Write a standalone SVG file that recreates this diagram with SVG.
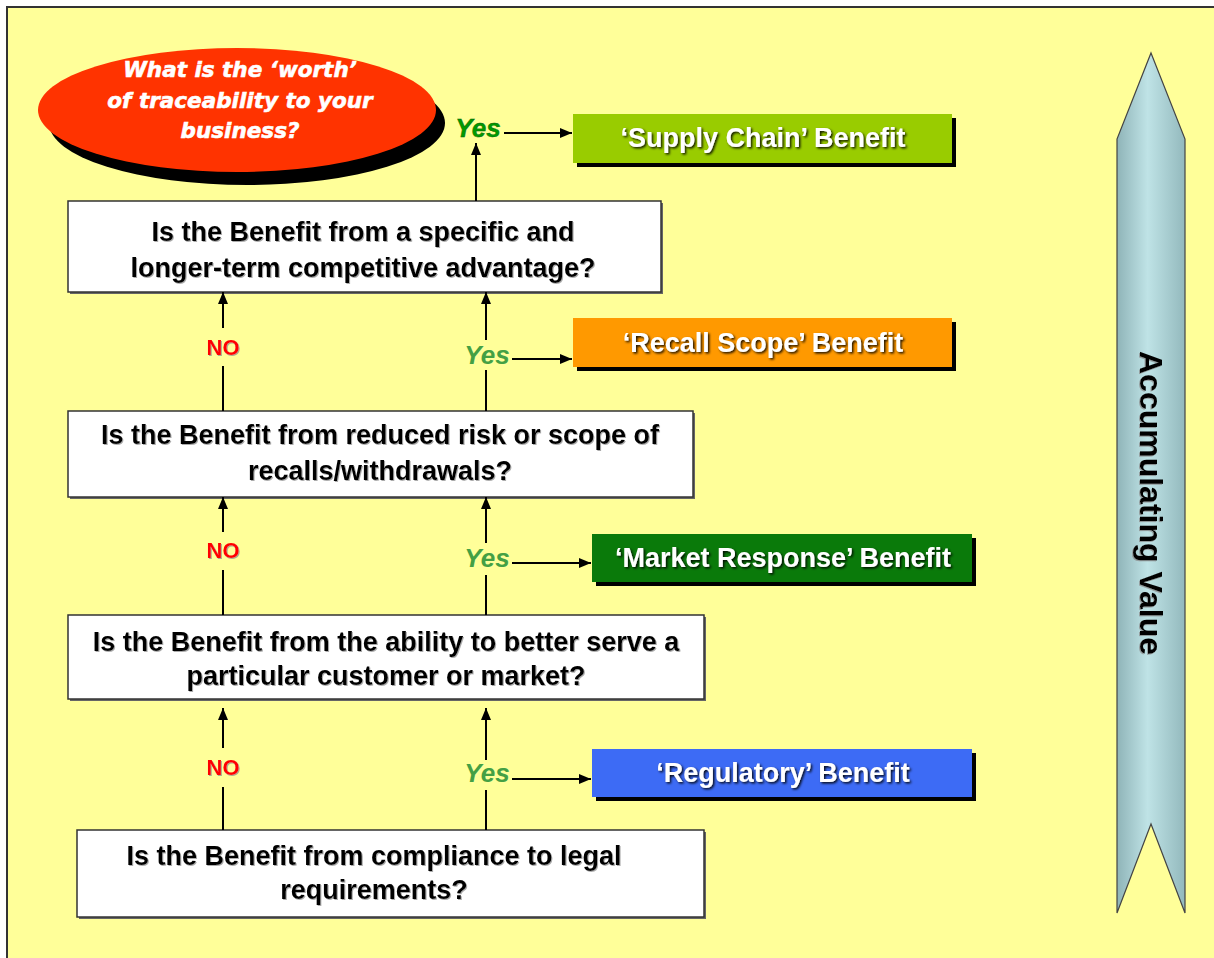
<svg xmlns="http://www.w3.org/2000/svg" width="1214" height="958" viewBox="0 0 1214 958">
<style>
.q{font-family:"Liberation Sans",Arial,sans-serif;font-weight:bold;font-size:27px;fill:#000;text-anchor:middle}
.qbox{fill:#fff;stroke:#333;stroke-width:1.5}
.qsh{fill:#666}
.ben{font-family:"Liberation Sans",Arial,sans-serif;font-weight:bold;font-size:27px;fill:#fff;text-anchor:middle}
.bsh{fill:#000}
.yes{font-family:"Liberation Sans",Arial,sans-serif;font-weight:bold;font-style:italic;font-size:26px;fill:#44a044;text-anchor:middle}
.no{font-family:"Liberation Sans",Arial,sans-serif;font-weight:bold;font-size:22px;fill:#ff0000;text-anchor:middle}
.ln{stroke:#000;stroke-width:2;fill:none}
.ell{font-family:"DejaVu Sans",Verdana,sans-serif;font-weight:bold;font-style:italic;font-size:21.5px;fill:#fff;stroke:#fff;stroke-width:0.6;text-anchor:middle}
</style>
<defs>
<marker id="ah" markerUnits="userSpaceOnUse" markerWidth="13" markerHeight="10" refX="12" refY="5" orient="auto">
<path d="M0,0 L12,5 L0,10 z" fill="#000"/>
</marker>
<filter id="tsh" x="-10%" y="-30%" width="120%" height="160%">
<feDropShadow dx="1.5" dy="1.5" stdDeviation="0.8" flood-color="#000" flood-opacity="0.9"/>
</filter>
<filter id="qsh" x="-10%" y="-30%" width="120%" height="160%">
<feDropShadow dx="1" dy="1" stdDeviation="0.6" flood-color="#888" flood-opacity="0.7"/>
</filter>
<linearGradient id="bar" x1="0" y1="0" x2="1" y2="0">
<stop offset="0" stop-color="#8fb4b8"/>
<stop offset="0.45" stop-color="#bfe3e6"/>
<stop offset="1" stop-color="#93b9bd"/>
</linearGradient>
</defs>

<rect x="0" y="0" width="1214" height="958" fill="#fff"/>
<rect x="7" y="7" width="1230" height="970" fill="#ffff99" stroke="#333" stroke-width="2"/>

<g id="question-ellipse">
<ellipse cx="247" cy="123" rx="198" ry="62" fill="#000"/>
<ellipse cx="237" cy="110" rx="199" ry="62" fill="#ff3300"/>
<text class="ell" x="240" y="77">What is the ‘worth’</text>
<text class="ell" x="240" y="108">of traceability to your</text>
<text class="ell" x="240" y="138">business?</text>
</g>

<g id="q-competitive">
<rect class="qsh" x="70" y="203" width="593" height="91"/>
<rect class="qbox" x="68" y="201" width="593" height="91"/>
<text class="q" filter="url(#qsh)" x="363" y="241">Is the Benefit from a specific and</text>
<text class="q" filter="url(#qsh)" x="363" y="277">longer-term competitive advantage?</text>
</g>

<g id="q-recall">
<rect class="qsh" x="70" y="413" width="625" height="86"/>
<rect class="qbox" x="68" y="411" width="625" height="86"/>
<text class="q" filter="url(#qsh)" x="380" y="444">Is the Benefit from reduced risk or scope of</text>
<text class="q" filter="url(#qsh)" x="380" y="480">recalls/withdrawals?</text>
</g>

<g id="q-market">
<rect class="qsh" x="70" y="617" width="636" height="84"/>
<rect class="qbox" x="68" y="615" width="636" height="84"/>
<text class="q" filter="url(#qsh)" x="386" y="651">Is the Benefit from the ability to better serve a</text>
<text class="q" filter="url(#qsh)" x="386" y="685">particular customer or market?</text>
</g>

<g id="q-legal">
<rect class="qsh" x="79" y="832" width="627" height="87"/>
<rect class="qbox" x="77" y="830" width="627" height="87"/>
<text class="q" filter="url(#qsh)" x="374" y="865">Is the Benefit from compliance to legal</text>
<text class="q" filter="url(#qsh)" x="374" y="899">requirements?</text>
</g>

<g id="b-supply">
<rect class="bsh" x="577" y="118" width="379" height="49"/>
<rect x="573" y="114" width="379" height="49" fill="#99cc00"/>
<text class="ben" filter="url(#tsh)" x="763" y="147">‘Supply Chain’ Benefit</text>
</g>

<g id="b-recall">
<rect class="bsh" x="577" y="322" width="379" height="49"/>
<rect x="573" y="318" width="379" height="49" fill="#ff9900"/>
<text class="ben" filter="url(#tsh)" x="763" y="352">‘Recall Scope’ Benefit</text>
</g>

<g id="b-market">
<rect class="bsh" x="596" y="538" width="380" height="48"/>
<rect x="592" y="534" width="380" height="48" fill="#0a7a0a"/>
<text class="ben" filter="url(#tsh)" x="783" y="567">‘Market Response’ Benefit</text>
</g>

<g id="b-regulatory">
<rect class="bsh" x="596" y="753" width="380" height="48"/>
<rect x="592" y="749" width="380" height="48" fill="#3d6bf5"/>
<text class="ben" filter="url(#tsh)" x="783" y="782">‘Regulatory’ Benefit</text>
</g>

<g id="value-arrow">
<path d="M1151,53 L1185,139 L1185,913 L1151,824 L1117,913 L1117,139 Z" fill="url(#bar)" stroke="#444" stroke-width="1.2"/>
<text transform="translate(1140,503) rotate(90)" x="0" y="0" font-family="Liberation Sans, Arial, sans-serif" font-weight="bold" font-size="32" text-anchor="middle" fill="#000" filter="url(#qsh)">Accumulating Value</text>
</g>

<g id="connectors">
<line class="ln" x1="223" y1="830" x2="223" y2="787"/>
<line class="ln" x1="223" y1="748" x2="223" y2="708" marker-end="url(#ah)"/>
<line class="ln" x1="223" y1="615" x2="223" y2="570"/>
<line class="ln" x1="223" y1="532" x2="223" y2="497" marker-end="url(#ah)"/>
<line class="ln" x1="223" y1="411" x2="223" y2="366"/>
<line class="ln" x1="223" y1="328" x2="223" y2="292" marker-end="url(#ah)"/>

<line class="ln" x1="486" y1="830" x2="486" y2="790"/>
<line class="ln" x1="486" y1="760" x2="486" y2="708" marker-end="url(#ah)"/>
<line class="ln" x1="512" y1="779" x2="591" y2="779" marker-end="url(#ah)"/>
<line class="ln" x1="486" y1="615" x2="486" y2="575"/>
<line class="ln" x1="486" y1="543" x2="486" y2="497" marker-end="url(#ah)"/>
<line class="ln" x1="512" y1="563" x2="591" y2="563" marker-end="url(#ah)"/>
<line class="ln" x1="486" y1="411" x2="486" y2="370"/>
<line class="ln" x1="486" y1="340" x2="486" y2="292" marker-end="url(#ah)"/>
<line class="ln" x1="512" y1="359" x2="572" y2="359" marker-end="url(#ah)"/>
<line class="ln" x1="476" y1="201" x2="476" y2="143" marker-end="url(#ah)"/>
<line class="ln" x1="504" y1="133" x2="572" y2="133" marker-end="url(#ah)"/>

<text class="no" filter="url(#qsh)" x="223" y="355">NO</text>
<text class="no" filter="url(#qsh)" x="223" y="558">NO</text>
<text class="no" filter="url(#qsh)" x="223" y="775">NO</text>
<text class="yes" x="487" y="364">Yes</text>
<text class="yes" x="487" y="567">Yes</text>
<text class="yes" x="487" y="782">Yes</text>
<text class="yes" x="478" y="137" style="fill:#009a00" stroke="#0a5a0a" stroke-width="0.4">Yes</text>
</g>
</svg>
